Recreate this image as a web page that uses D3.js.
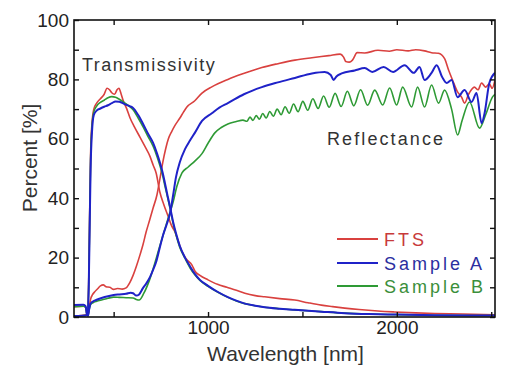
<!DOCTYPE html>
<html>
<head>
<meta charset="utf-8">
<script src="https://cdn.jsdelivr.net/npm/d3@7"></script>
<style>
  html, body { margin: 0; padding: 0; background: #fff; }
  svg { display: block; }
  text { font-family: "Liberation Sans", Arial, sans-serif; }
</style>
</head>
<body>
<svg id="chart" width="510" height="378"></svg>
<script>
// ---------- data (wavelength nm, percent) ----------
const seriesNames = ["FTS", "Sample A", "Sample B"];
const seriesColors = ["#d9413f", "#1f22c8", "#2e9a35"];
const legendTextColors = ["#c83a3a", "#2b2fa0", "#3b8f3b"];

const xTicks = [500, 1000, 1500, 2000, 2500];
const xTickLabels = ["", "1000", "", "2000", ""];
const yTicks = [0, 10, 20, 30, 40, 50, 60, 70, 80, 90, 100];
const yTickLabels = ["0", "", "20", "", "40", "", "60", "", "80", "", "100"];

const ftsTrans = [[290,0.4],[330,0.5],[362,0.8],[368,12],[373,35],[378,55],[385,65],[395,70],[410,72],[430,73.5],[450,75],[465,77],[478,76.5],[490,75.5],[505,75],[518,76.5],[528,77],[540,75],[550,73],[570,70],[587,67],[610,64],[640,60.5],[665,57.5],[693,54],[710,51],[725,48.5],[745,42],[765,38],[788,34],[805,31],[825,28.6],[845,25],[862,22],[885,19.5],[915,17.5],[930,15.5],[957,14],[1000,12.5],[1050,11],[1100,10],[1150,9],[1195,8],[1250,7.2],[1300,6.8],[1380,6.2],[1459,5.7],[1530,4.8],[1600,4],[1660,3.5],[1724,3],[1800,2.5],[1900,2],[1988,1.7],[2100,1.4],[2200,1.2],[2350,1],[2520,0.7]];

const sampleATrans = [[290,0.3],[330,0.4],[362,0.7],[368,10],[373,30],[378,50],[385,62],[395,68],[410,69.5],[430,70.2],[450,70.8],[470,71.3],[490,72],[510,72.6],[530,72.5],[560,71.6],[585,71],[603,70.4],[630,68],[656,65],[680,62],[709,58.6],[730,55],[745,52],[760,48.5],[772,45],[785,41],[799,37],[815,32],[831,28],[850,24],[878,20],[905,17],[930,14.5],[957,12.5],[1000,10.5],[1050,8.5],[1105,6.7],[1150,5.5],[1195,4.5],[1250,3.8],[1300,3.3],[1380,2.8],[1459,2.4],[1600,1.8],[1724,1.3],[1850,1],[2000,0.8],[2200,0.6],[2520,0.5]];

const sampleBTrans = [[290,0.3],[330,0.4],[362,0.7],[368,11],[373,33],[378,53],[385,64],[395,69],[410,71],[430,72.3],[450,73],[470,73.8],[490,74.2],[510,74],[530,73.3],[560,72],[585,70.8],[603,69.8],[630,67],[656,64],[680,61],[709,57.5],[730,54],[745,51],[760,47.5],[772,44],[785,40.5],[799,36.5],[815,31.5],[831,27.5],[850,23.5],[878,19.8],[905,16.5],[930,14.2],[957,12.3],[1000,10.3],[1050,8.4],[1105,6.6],[1150,5.4],[1195,4.5],[1250,3.8],[1300,3.3],[1380,2.8],[1459,2.4],[1600,1.8],[1724,1.3],[1850,1],[2000,0.8],[2200,0.6],[2520,0.5]];

const ftsRefl = [[290,3.5],[340,3.6],[352,3.2],[358,1],[364,0.5],[370,3],[378,6],[388,7.5],[400,8.5],[415,9.5],[430,10.5],[445,10.8],[460,10.2],[480,10],[500,9.3],[520,9.6],[545,9.4],[566,9.8],[585,11.5],[603,14],[620,17],[640,21],[656,24.5],[672,28.6],[690,32.5],[709,36.7],[729,41],[745,46.5],[760,52],[775,56.5],[790,60],[808,62.5],[825,64.5],[851,67],[870,69],[888,70.7],[930,72.8],[968,75.4],[1020,77.5],[1105,80],[1180,81.8],[1285,84],[1370,85.3],[1460,86.5],[1550,87.3],[1640,88],[1700,88.5],[1718,87.5],[1730,86],[1748,85.8],[1765,86.5],[1790,89],[1830,88.9],[1900,89.8],[1960,89.5],[2000,90],[2060,89.6],[2100,90],[2147,89.6],[2184,89],[2220,88.8],[2253,87],[2275,83],[2295,79.8],[2320,76],[2343,74],[2359,72],[2380,75],[2411,77.4],[2430,76.5],[2449,78.8],[2470,77.4],[2490,78.5],[2505,77],[2520,79.8]];

const sampleARefl = [[290,4],[340,4.1],[352,3.6],[358,1],[364,0.4],[370,2.5],[378,4.5],[390,5.2],[410,5.8],[440,6.5],[470,7],[500,7.4],[530,7.6],[566,7.8],[590,8.2],[603,8],[620,7.2],[635,7.6],[656,9.8],[675,11.5],[693,13.5],[710,16],[725,18.5],[745,23.5],[762,27.6],[780,31],[799,35],[815,41],[830,47],[850,52],[878,56.5],[905,59.5],[930,62],[968,66],[1020,68.6],[1060,70.5],[1105,72],[1190,75],[1285,77.4],[1370,79],[1460,80.5],[1550,82],[1618,82.5],[1650,81.5],[1665,79.8],[1680,81],[1708,82],[1777,83],[1830,83.8],[1870,82.5],[1930,84.2],[1980,82.5],[2041,84.8],[2090,82.2],[2120,84.2],[2147,79.8],[2184,82.2],[2211,84.8],[2240,80.8],[2264,78.8],[2290,79.8],[2322,74],[2359,76.4],[2396,72.4],[2422,75.4],[2449,65.3],[2465,68.7],[2490,78.8],[2520,82.2]];

const sampleBRefl = [[290,3.5],[340,3.6],[352,3.2],[358,1],[364,0.4],[370,2.5],[378,4.2],[390,4.8],[410,5.3],[440,5.8],[470,6.3],[500,6.7],[530,6.6],[566,6.5],[603,6.4],[620,5.9],[635,5.7],[660,8],[693,13],[720,18.5],[745,24],[778,31],[800,35.5],[815,38.7],[835,44],[862,48.5],[895,50.5],[930,52.5],[968,55],[1000,58.5],[1036,62],[1070,63.8],[1105,65],[1150,65.8],[1185,66.3],[1206,65.9],[1222,67.3],[1238,66.2],[1255,67.8],[1272,66.6],[1290,68.5],[1308,67.0],[1327,69.2],[1346,67.6],[1366,70.0],[1387,68.1],[1408,70.8],[1430,68.6],[1453,71.7],[1477,69.1],[1502,72.6],[1528,69.6],[1555,73.5],[1583,70.2],[1612,74.4],[1642,70.6],[1673,75.3],[1705,70.9],[1738,76.0],[1772,71.1],[1808,76.5],[1845,71.3],[1883,76.4],[1925,71.4],[1962,77.1],[1999,71.4],[2031,77.4],[2078,70.7],[2110,77.4],[2147,70.7],[2184,78.1],[2221,72],[2253,76.4],[2290,70],[2322,61.3],[2345,66],[2385,72.4],[2438,63.6],[2470,68],[2507,74.1],[2520,75]];

const transSeries = [ftsTrans, sampleATrans, sampleBTrans];
const reflSeries = [ftsRefl, sampleARefl, sampleBRefl];

// ---------- layout ----------
const svg = d3.select("#chart");
const L = 74, R = 495, T = 20, B = 317;
const x = d3.scaleLinear().domain([290, 2520]).range([L, R]);
const y = d3.scaleLinear().domain([0, 100]).range([B, T]);

svg.append("defs").append("clipPath").attr("id", "clip")
  .append("rect").attr("x", L).attr("y", T).attr("width", R - L).attr("height", B - T);

const line = d3.line().x(d => x(d[0])).y(d => y(d[1])).curve(d3.curveMonotoneX);

const plot = svg.append("g").attr("clip-path", "url(#clip)");
const drawOrder = [0, 2, 1];
drawOrder.forEach(i => {
  [transSeries[i], reflSeries[i]].forEach(data => {
    plot.append("path").datum(data)
      .attr("d", line)
      .attr("fill", "none")
      .attr("stroke", seriesColors[i])
      .attr("stroke-width", i === 1 ? 2 : 1.6)
      .attr("stroke-linejoin", "round");
  });
});

// ---------- axes ----------
const tickFont = 19;
const xb = svg.append("g").attr("transform", `translate(0,${B})`)
  .call(d3.axisBottom(x).tickValues(xTicks).tickSize(-5).tickPadding(3)
    .tickFormat((d, i) => xTickLabels[i]));
const xt = svg.append("g").attr("transform", `translate(0,${T})`)
  .call(d3.axisTop(x).tickValues(xTicks).tickSize(-5).tickFormat(""));
const yl = svg.append("g").attr("transform", `translate(${L},0)`)
  .call(d3.axisLeft(y).tickValues(yTicks).tickSize(-5).tickPadding(5)
    .tickFormat((d, i) => yTickLabels[i]));
const yr = svg.append("g").attr("transform", `translate(${R},0)`)
  .call(d3.axisRight(y).tickValues(yTicks).tickSize(-5).tickFormat(""));

[xb, xt, yl, yr].forEach(g => {
  g.select(".domain").remove();
  g.selectAll(".tick line").attr("stroke", "#111").attr("stroke-width", 1.4);
  g.selectAll("text").attr("font-size", tickFont).attr("fill", "#222")
    .attr("font-family", "'Liberation Sans', Arial, sans-serif");
});
xb.selectAll("text").attr("dy", "0.71em");

svg.append("rect").attr("x", L).attr("y", T).attr("width", R - L).attr("height", B - T)
  .attr("fill", "none").attr("stroke", "#111").attr("stroke-width", 1.6);

// axis titles
svg.append("text").attr("x", (L + R) / 2 + 1).attr("y", 361)
  .attr("text-anchor", "middle").attr("font-size", 21).attr("fill", "#333")
  .text("Wavelength [nm]");
svg.append("text").attr("transform", "translate(37,158) rotate(-90)")
  .attr("text-anchor", "middle").attr("font-size", 21).attr("fill", "#333")
  .text("Percent [%]");

// annotations
svg.append("text").attr("x", 82).attr("y", 71).attr("font-size", 18)
  .attr("letter-spacing", 1.5).attr("fill", "#333").text("Transmissivity");
svg.append("text").attr("x", 327).attr("y", 145).attr("font-size", 18)
  .attr("letter-spacing", 2.1).attr("fill", "#333").text("Reflectance");

// legend
const legendY = [239, 263, 286];
seriesNames.forEach((name, i) => {
  svg.append("line").attr("x1", 337).attr("x2", 378)
    .attr("y1", legendY[i]).attr("y2", legendY[i])
    .attr("stroke", seriesColors[i]).attr("stroke-width", 1.8);
  svg.append("text").attr("x", 384).attr("y", legendY[i] + 7)
    .attr("font-size", 18).attr("letter-spacing", 3)
    .attr("fill", legendTextColors[i]).text(name);
});
</script>
</body>
</html>
